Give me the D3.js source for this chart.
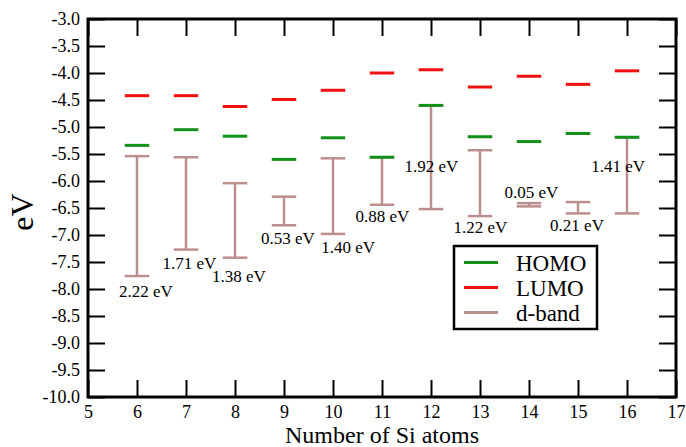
<!DOCTYPE html>
<html><head><meta charset="utf-8">
<script src="https://cdn.jsdelivr.net/npm/d3@7"></script>
<style>body{margin:0;background:#fff}svg{display:block}svg text{font-family:"Liberation Serif","Times New Roman",serif !important}</style>
</head><body><svg id="c" width="686" height="447" font-family="Liberation Serif, serif"></svg>
<script>
const atoms   = [6, 7, 8, 9, 10, 11, 12, 13, 14, 15, 16];
const homo    = [-5.34, -5.05, -5.17, -5.60, -5.20, -5.56, -4.60, -5.18, -5.27, -5.12, -5.19];
const lumo    = [-4.42, -4.42, -4.62, -4.49, -4.32, -4.00, -3.94, -4.26, -4.06, -4.21, -3.96];
const dTop    = [-5.54, -5.56, -6.04, -6.29, -5.58, -5.56, -4.60, -5.43, -6.41, -6.39, -5.19];
const dBottom = [-7.76, -7.27, -7.42, -6.82, -6.98, -6.44, -6.52, -6.65, -6.47, -6.60, -6.60];
const gapLabels = ["2.22 eV","1.71 eV","1.38 eV","0.53 eV","1.40 eV","0.88 eV","1.92 eV","1.22 eV","0.05 eV","0.21 eV","1.41 eV"];
const labelX  = [6.18, 7.07, 8.08, 9.08, 10.31, 11.01, 12.01, 13.01, 14.05, 14.98, 15.82];
const labelY  = [-8.15, -7.63, -7.87, -7.17, -7.33, -6.76, -5.83, -6.96, -6.31, -6.92, -5.83];
const xTicks  = [5,6,7,8,9,10,11,12,13,14,15,16,17];
const yTicks  = d3.range(-10, -2.99, 0.5);
const legendNames = ["HOMO", "LUMO", "d-band"];
const colors = {HOMO: "#11901a", LUMO: "#f01010", dband: "#bc8f8f"};

const W = 686, H = 447, m = {l: 88, t: 19, r: 10, b: 50};
const FONT = "Liberation Serif, Times New Roman, serif";
const svg = d3.select("#c");
const x = d3.scaleLinear().domain([5, 17]).range([m.l, W - m.r]);
const y = d3.scaleLinear().domain([-10, -3]).range([H - m.b, m.t]);
const hw = 0.25;

const tickLen = 17;
const gB = svg.append("g").attr("transform", `translate(0,${y(-10)})`)
  .call(d3.axisBottom(x).tickValues(xTicks).tickFormat(d3.format("d")).tickSizeInner(-tickLen).tickSizeOuter(0).tickPadding(8));
const gT = svg.append("g").attr("transform", `translate(0,${y(-3)})`)
  .call(d3.axisTop(x).tickValues(xTicks).tickFormat("").tickSizeInner(-tickLen).tickSizeOuter(0));
const gL = svg.append("g").attr("transform", `translate(${x(5)},0)`)
  .call(d3.axisLeft(y).tickValues(yTicks).tickFormat(d => d3.format(".1f")(d).replace("−", "-")).tickSizeInner(-tickLen).tickSizeOuter(0).tickPadding(8));
const gR = svg.append("g").attr("transform", `translate(${x(17)},0)`)
  .call(d3.axisRight(y).tickValues(yTicks).tickFormat("").tickSizeInner(-tickLen).tickSizeOuter(0));
[gB, gT, gL, gR].forEach(g => {
  g.attr("font-family", FONT).attr("font-size", 18);
  g.select(".domain").remove();
  g.selectAll(".tick line").attr("stroke", "#000").attr("stroke-width", 2);
  g.selectAll(".tick text").attr("fill", "#000");
});

svg.append("rect").attr("x", x(5)).attr("y", y(-3)).attr("width", x(17) - x(5)).attr("height", y(-10) - y(-3))
  .attr("fill", "none").attr("stroke", "#000").attr("stroke-width", 3);

const dg = svg.append("g").attr("stroke", colors.dband).attr("stroke-width", 2.5);
atoms.forEach((a, i) => {
  dg.append("line").attr("x1", x(a)).attr("x2", x(a)).attr("y1", y(dTop[i])).attr("y2", y(dBottom[i]));
  dg.append("line").attr("x1", x(a - hw)).attr("x2", x(a + hw)).attr("y1", y(dTop[i])).attr("y2", y(dTop[i]));
  dg.append("line").attr("x1", x(a - hw)).attr("x2", x(a + hw)).attr("y1", y(dBottom[i])).attr("y2", y(dBottom[i]));
});
svg.append("g").selectAll("line").data(atoms).join("line")
  .attr("x1", d => x(d - hw)).attr("x2", d => x(d + hw))
  .attr("y1", (d, i) => y(lumo[i])).attr("y2", (d, i) => y(lumo[i]))
  .attr("stroke", colors.LUMO).attr("stroke-width", 3);
svg.append("g").selectAll("line").data(atoms).join("line")
  .attr("x1", d => x(d - hw)).attr("x2", d => x(d + hw))
  .attr("y1", (d, i) => y(homo[i])).attr("y2", (d, i) => y(homo[i]))
  .attr("stroke", colors.HOMO).attr("stroke-width", 3);

svg.append("g").attr("font-family", FONT).selectAll("text").data(gapLabels).join("text")
  .attr("x", (d, i) => x(labelX[i])).attr("y", (d, i) => y(labelY[i]))
  .attr("text-anchor", "middle").attr("font-size", 17).attr("fill", "#000").text(d => d);

svg.append("text").attr("x", (x(5) + x(17)) / 2).attr("y", 443).attr("text-anchor", "middle")
  .attr("font-family", FONT).attr("font-size", 24).text("Number of Si atoms");
svg.append("text").attr("transform", `translate(33,212) rotate(-90)`).attr("text-anchor", "middle")
  .attr("font-family", FONT).attr("font-size", 32).text("eV");

const lg = svg.append("g").attr("font-family", FONT);
lg.append("rect").attr("x", 454).attr("y", 246).attr("width", 143).attr("height", 83)
  .attr("fill", "#fff").attr("stroke", "#000").attr("stroke-width", 2.5);
const lcol = [colors.HOMO, colors.LUMO, colors.dband];
legendNames.forEach((n, i) => {
  const yy = 262.5 + i * 25;
  lg.append("line").attr("x1", 464).attr("x2", 498).attr("y1", yy).attr("y2", yy)
    .attr("stroke", lcol[i]).attr("stroke-width", 3);
  lg.append("text").attr("x", 516).attr("y", yy + 8.5).attr("font-size", 23).text(n);
});
</script></body></html>
